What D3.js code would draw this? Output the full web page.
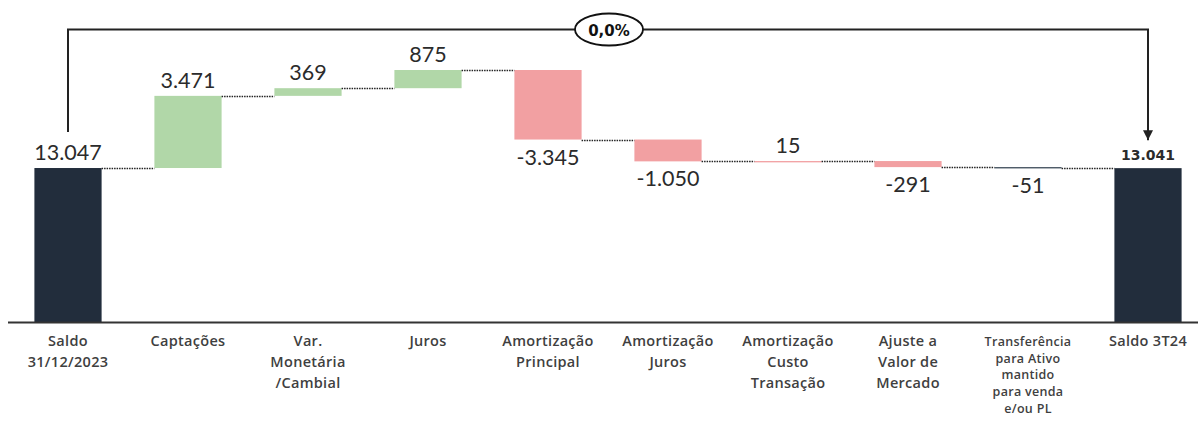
<!DOCTYPE html>
<html>
<head>
<meta charset="utf-8">
<script src="https://cdn.jsdelivr.net/npm/d3@7"></script>
<style>
  body { margin: 0; background: #fff; }
  svg { display: block; }
</style>
</head>
<body>
<svg id="chart" width="1198" height="427"></svg>
<script>
// categories (one line per array entry)
const categories = [
    ["Saldo", "31/12/2023"],
    ["Captações"],
    ["Var.", "Monetária", "/Cambial"],
    ["Juros"],
    ["Amortização", "Principal"],
    ["Amortização", "Juros"],
    ["Amortização", "Custo", "Transação"],
    ["Ajuste a", "Valor de", "Mercado"],
    ["Transferência", "para Ativo", "mantido", "para venda", "e/ou PL"],
    ["Saldo 3T24"]
];
const values = [13047, 3471, 369, 875, -3345, -1050, 15, -291, -51, 13041];
const labels = ["13.047", "3.471", "369", "875", "-3.345", "-1.050", "15", "-291", "-51", "13.041"];
const kinds = ["total", "up", "up", "up", "down", "down", "down", "down", "transfer", "total"];
const changeLabel = "0,0%";

const colors = { total: "#222d3c", up: "#b1d7a8", down: "#f2a0a2", transfer: "#3d4b59" };

const svg = d3.select("#chart");
const width = 1198, height = 427;

// build waterfall steps
let running = 0;
const steps = values.map((v, i) => {
    let start, end;
    if (kinds[i] == "total") { start = 0; end = v; running = v; }
    else { start = running; end = running + v; running = end; }
    return { i, v, start, end, kind: kinds[i], label: labels[i], cat: categories[i] };
});

const x = d3.scaleBand().domain(d3.range(values.length)).range([8, 1208]).paddingInner(0.44).paddingOuter(0.22);
const y = d3.scaleLinear().domain([5640, 17762]).range([322, 70]);
const bw = x.bandwidth();

// bars
svg.append("g").selectAll("rect")
    .data(steps)
    .join("rect")
    .attr("x", d => x(d.i))
    .attr("width", bw)
    .attr("y", d => d.kind == "total" ? y(d.end) : y(Math.max(d.start, d.end)))
    .attr("height", d => {
        let h = d.kind == "total" ? y(5640) - y(d.end) : Math.abs(y(d.start) - y(d.end));
        return Math.max(h, 1.3);
    })
    .attr("fill", d => colors[d.kind]);

// dotted connectors
svg.append("g").selectAll("line")
    .data(steps.slice(0, -1))
    .join("line")
    .attr("x1", d => x(d.i) + bw)
    .attr("x2", d => x(d.i + 1))
    .attr("y1", d => Math.round(y(d.end)) + 0.5)
    .attr("y2", d => Math.round(y(d.end)) + 0.5)
    .attr("stroke", "#222")
    .attr("stroke-width", 1.3)
    .attr("stroke-dasharray", "1.5,1");

// axis line
svg.append("line")
    .attr("x1", 8).attr("x2", width)
    .attr("y1", 322.5).attr("y2", 322.5)
    .attr("stroke", "#333").attr("stroke-width", 2);

// value labels
svg.append("g").selectAll("text")
    .data(steps)
    .join("text")
    .attr("x", d => x(d.i) + bw / 2)
    .attr("y", d => {
        if (d.kind == "total") return y(d.end) - 8;
        if (d.v >= 0) return y(d.end) - 8;
        return y(d.end) + 25;
    })
    .attr("text-anchor", "middle")
    .style("font-family", d => d.i == values.length - 1 ? "DejaVu Sans" : "Lato")
    .style("font-weight", d => d.i == values.length - 1 ? "bold" : "normal")
    .style("font-size", d => d.i == values.length - 1 ? "14px" : "21.5px")
    .attr("fill", "#2b2b2b")
    .text(d => d.label);

// category labels
const catG = svg.append("g")
    .selectAll("text")
    .data(steps)
    .join("text")
    .attr("text-anchor", "middle")
    .attr("x", d => x(d.i) + bw / 2)
    .attr("y", 346)
    .style("font-family", "Open Sans")
    .style("font-weight", "600")
    .style("font-size", d => d.cat.length > 3 ? "12.5px" : "14.5px")
    .style("letter-spacing", "0.3px")
    .attr("fill", "#3f3f3f");

catG.selectAll("tspan")
    .data(d => d.cat.map((t, j) => ({ t, j, small: d.cat.length > 3, cx: x(d.i) + bw / 2 })))
    .join("tspan")
    .attr("x", d => d.cx)
    .attr("dy", d => d.j == 0 ? 0 : (d.small ? 16.7 : 21))
    .text(d => d.t);

// bracket with arrow from first to last total
const first = steps[0], last = steps[steps.length - 1];
const x0 = x(first.i) + bw / 2, x1 = x(last.i) + bw / 2;
const topY = 29.5;

svg.append("defs").append("marker")
    .attr("id", "arrow")
    .attr("viewBox", "0 0 10 10")
    .attr("refX", 10).attr("refY", 5)
    .attr("markerWidth", 5).attr("markerHeight", 5)
    .attr("orient", "auto")
    .attr("markerUnits", "strokeWidth")
    .append("path")
    .attr("d", "M0,0L10,5L0,10Z")
    .attr("fill", "#222");

svg.append("path")
    .attr("d", `M${x0},${y(first.end) - 36}V${topY}H${x1}V${y(last.end) - 28}`)
    .attr("fill", "none")
    .attr("stroke", "#222")
    .attr("stroke-width", 2)
    .attr("marker-end", "url(#arrow)");

const cx = (x0 + x1) / 2 + 1;
svg.append("ellipse")
    .attr("cx", cx).attr("cy", topY)
    .attr("rx", 34).attr("ry", 16)
    .attr("fill", "#fff")
    .attr("stroke", "#111")
    .attr("stroke-width", 1.8);

svg.append("text")
    .attr("x", cx).attr("y", topY + 6)
    .attr("text-anchor", "middle")
    .style("font-family", "DejaVu Sans")
    .style("font-weight", "bold")
    .style("font-size", "15px")
    .attr("fill", "#111")
    .text(changeLabel);
</script>
</body>
</html>
